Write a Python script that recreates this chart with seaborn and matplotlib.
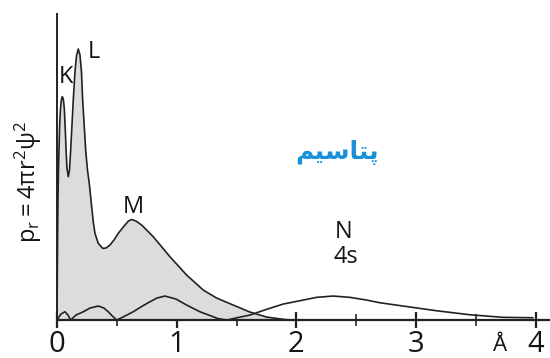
import numpy as np
import pandas as pd
import seaborn as sns
import matplotlib.pyplot as plt

# radial distance (angstrom) and probability (arbitrary units) of the whole atom
total_r = [0, 0.0025, 0.005, 0.0084, 0.0125, 0.0167, 0.0217, 0.0276, 0.0351, 0.0443,
           0.0526, 0.0610, 0.0693, 0.0768, 0.0835, 0.0944, 0.1044, 0.1144, 0.1361,
           0.1503, 0.1628, 0.1779, 0.1921, 0.2046, 0.2146, 0.2271, 0.2397, 0.2547,
           0.2697, 0.2898, 0.3031, 0.3173, 0.3449, 0.3816, 0.4092, 0.4426, 0.4760,
           0.5119, 0.5678, 0.5971, 0.6238, 0.6597, 0.7073, 0.8042, 0.944, 1.083,
           1.222, 1.334, 1.472, 1.612, 1.751, 1.890, 1.962]
total_p = [0, 0.40, 0.80, 1.20, 1.50, 1.70, 1.92, 2.08, 2.19, 2.233,
           2.21, 2.12, 1.90, 1.68, 1.52, 1.433, 1.50, 1.70, 2.20,
           2.48, 2.64, 2.71, 2.65, 2.48, 2.20, 1.95, 1.70, 1.50,
           1.367, 1.133, 0.98, 0.867, 0.767, 0.717, 0.72, 0.75, 0.80,
           0.867, 0.95, 0.99, 1.005, 0.99, 0.95, 0.833, 0.633, 0.45,
           0.30, 0.22, 0.15, 0.08, 0.03, 0.007, 0]

# 4s electron
s4_r = [0, 0.033, 0.067, 0.092, 0.114, 0.159, 0.220, 0.276, 0.345, 0.392, 0.428,
        0.463, 0.499, 0.568, 0.637, 0.707, 0.777, 0.835, 0.902, 0.994, 1.083,
        1.194, 1.278, 1.344, 1.420, 1.511, 1.612, 1.751, 1.890, 2.029, 2.169,
        2.307, 2.447, 2.586, 2.697, 2.892, 3.171, 3.449, 3.727, 3.977]
s4_p = [0, 0.06, 0.083, 0.05, 0, 0.05, 0.083, 0.12, 0.14, 0.12, 0.083,
        0.04, 0, 0.04, 0.083, 0.135, 0.183, 0.22, 0.24, 0.21, 0.15,
        0.083, 0.045, 0.015, 0, 0.025, 0.05, 0.107, 0.16, 0.193, 0.227,
        0.24, 0.227, 0.20, 0.173, 0.14, 0.093, 0.053, 0.027, 0.023]

shell_labels = ['K', 'L', 'M', 'N', '4s']
shell_r = [0.079, 0.309, 0.636, 2.39, 2.41]
shell_p = [2.367, 2.617, 1.073, 0.817, 0.567]

ticks = [0, 1, 2, 3, 4]
element = 'پتاسیم'

sns.set_style('ticks')
plt.rcParams['font.family'] = ['Open Sans', 'DejaVu Sans']
plt.rcParams['mathtext.fontset'] = 'custom'
plt.rcParams['mathtext.rm'] = 'Open Sans'
plt.rcParams['mathtext.it'] = 'Open Sans'

fig = plt.figure(figsize=(5.5, 3.58), dpi=100)
ax = fig.add_axes([0.1036, 0.106, 0.8945, 0.855])

line_c = '#222222'
txt_c = '#151515'
ax.fill_between(total_r, total_p, color='#dcdcdc', lw=0)
sns.lineplot(x=total_r, y=total_p, ax=ax, color=line_c, lw=1.2)
sns.lineplot(x=s4_r, y=s4_p, ax=ax, color=line_c, lw=1.2)

for lab, r, p in zip(shell_labels, shell_r, shell_p):
    ax.text(r, p, lab, fontsize=17, fontweight='medium', ha='center',
            va='baseline', color=txt_c)

# matplotlib does not join arabic letters: use the presentation forms, visual order
forms = {'پ': '\ufb58', 'ت': '\ufe98', 'ا': '\ufe8e', 'س': '\ufeb3',
         'ی': '\ufbff', 'م': '\ufee2'}
shaped = ''.join(forms[c] for c in element)[::-1]
ax.text(2.34, 1.68, shaped, fontsize=18, fontweight='bold', color='#1a90d8',
        ha='center', va='center', family='DejaVu Sans')

ax.text(3.70, -0.31, 'Å', fontsize=16, fontweight='medium', ha='center',
        va='baseline', color=txt_c, clip_on=False)

ax.set_xlim(0, 4.11)
ax.set_ylim(0, 3.06)
ax.set_xticks(ticks)
ax.set_xticklabels([str(t) for t in ticks], fontsize=21, fontweight='medium')
ax.set_xticks([0.5, 1.5, 2.5, 3.5], minor=True)
ax.set_yticks([])
ax.tick_params(axis='x', which='major', direction='inout', length=12, width=1.6,
               color=line_c, pad=1, labelcolor=txt_c)
ax.tick_params(axis='x', which='minor', direction='inout', length=8, width=1.2,
               color=line_c)
for s in ['top', 'right']:
    ax.spines[s].set_visible(False)
ax.spines['left'].set_linewidth(1.4)
ax.spines['bottom'].set_linewidth(1.6)
ax.spines['left'].set_color(line_c)
ax.spines['bottom'].set_color(line_c)

ax.set_ylabel(r'$\mathregular{p_r = 4\pi r^2 \psi^2}$', fontsize=17, color=txt_c)
ax.yaxis.set_label_coords(-0.026, 0.45)

fig.savefig('out.png', dpi=100)
